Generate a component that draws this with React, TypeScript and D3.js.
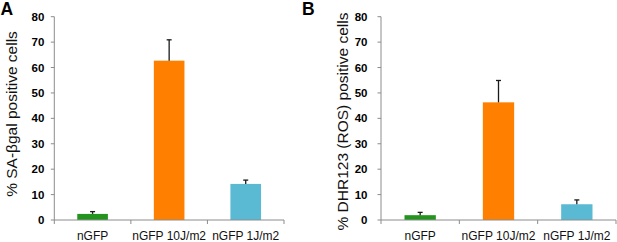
import React from "react";
import * as d3 from "d3";

const categories = ["nGFP", "nGFP 10J/m2", "nGFP 1J/m2"];
const barColors = ["#23951f", "#ff8000", "#5bbad3"];
const sabgalValues = [2.4, 62.7, 14.2];
const sabgalErrors = [0.9, 8.2, 1.5];
const rosValues = [1.9, 46.3, 6.2];
const rosErrors = [1.1, 8.6, 1.7];
const yTicks = [0, 10, 20, 30, 40, 50, 60, 70, 80];

const FONT = "'Liberation Sans', Arial, Helvetica, sans-serif";

type PanelProps = {
  letter: string;
  letterX: number;
  letterY: number;
  title: string;
  titleX: number;
  titleY: number;
  x0: number;
  x1: number;
  values: number[];
  errors: number[];
  tickGap: number;
};

function Panel(p: PanelProps) {
  const y = d3.scaleLinear().domain([0, 80]).range([220, 16.7]);
  const x = d3.scaleBand<string>().domain(categories).range([p.x0, p.x1]).paddingInner(0.6).paddingOuter(0.3);
  const bounds = d3.scaleBand<string>().domain(categories).range([p.x0, p.x1]);
  const axisColor = "#8c8c8c";
  return (
    <g>
      <text x={p.letterX} y={p.letterY} fontFamily={FONT} fontWeight="bold" fontSize={17.5} fill="#000">
        {p.letter}
      </text>
      <text
        transform={`translate(${p.titleX},${p.titleY}) rotate(-90)`}
        textAnchor="middle"
        fontFamily={FONT}
        fontSize={15.5}
        fill="#111"
      >
        {p.title}
      </text>
      {/* y axis */}
      <line x1={p.x0} x2={p.x0} y1={y(80)} y2={y(0)} stroke={axisColor} strokeWidth={1} />
      {yTicks.map((t) => (
        <g key={t}>
          <line x1={p.x0 - 3.5} x2={p.x0} y1={y(t)} y2={y(t)} stroke={axisColor} strokeWidth={1} />
          <text
            x={p.x0 - p.tickGap}
            y={y(t)}
            dy="0.36em"
            textAnchor="end"
            fontFamily={FONT}
            fontWeight="bold"
            fontSize={11.5}
            fill="#000"
          >
            {t}
          </text>
        </g>
      ))}
      {/* bars */}
      {categories.map((c, i) => {
        const bx = x(c)!;
        const bw = x.bandwidth();
        const cx = bx + bw / 2;
        const top = y(p.values[i]);
        const etop = y(p.values[i] + p.errors[i]);
        return (
          <g key={c}>
            <rect x={bx} y={top} width={bw} height={y(0) - top} fill={barColors[i]} />
            <line x1={cx} x2={cx} y1={top} y2={etop} stroke="#1a1a1a" strokeWidth={1.3} />
            <line x1={cx - 2.5} x2={cx + 2.5} y1={etop} y2={etop} stroke="#1a1a1a" strokeWidth={1.3} />
          </g>
        );
      })}
      {/* x axis */}
      <line x1={p.x0} x2={p.x1} y1={y(0)} y2={y(0)} stroke={axisColor} strokeWidth={1} />
      {[...categories.map((c) => bounds(c)!), p.x1].map((bx, i) => (
        <line key={i} x1={bx} x2={bx} y1={y(0)} y2={y(0) + 4} stroke={axisColor} strokeWidth={1} />
      ))}
      {categories.map((c) => (
        <text
          key={c}
          x={bounds(c)! + bounds.bandwidth() / 2}
          y={239.5}
          textAnchor="middle"
          fontFamily={FONT}
          fontSize={12}
          fill="#111"
        >
          {c}
        </text>
      ))}
    </g>
  );
}

export default function App() {
  return (
    <svg
      width={617}
      height={242}
      viewBox="0 0 617 242"
      style={{ position: "absolute", left: 0, top: 0, background: "#fff" }}
    >
      <rect x={0} y={0} width={617} height={242} fill="#fff" />
      <Panel
        letter="A"
        letterX={0.5}
        letterY={14.5}
        title="% SA-βgal positive cells"
        titleX={17}
        titleY={114}
        x0={54.3}
        x1={284}
        values={sabgalValues}
        errors={sabgalErrors}
        tickGap={10}
      />
      <Panel
        letter="B"
        letterX={302}
        letterY={15}
        title="% DHR123 (ROS) positive cells"
        titleX={348}
        titleY={121.5}
        x0={381}
        x1={616}
        values={rosValues}
        errors={rosErrors}
        tickGap={13.5}
      />
    </svg>
  );
}
